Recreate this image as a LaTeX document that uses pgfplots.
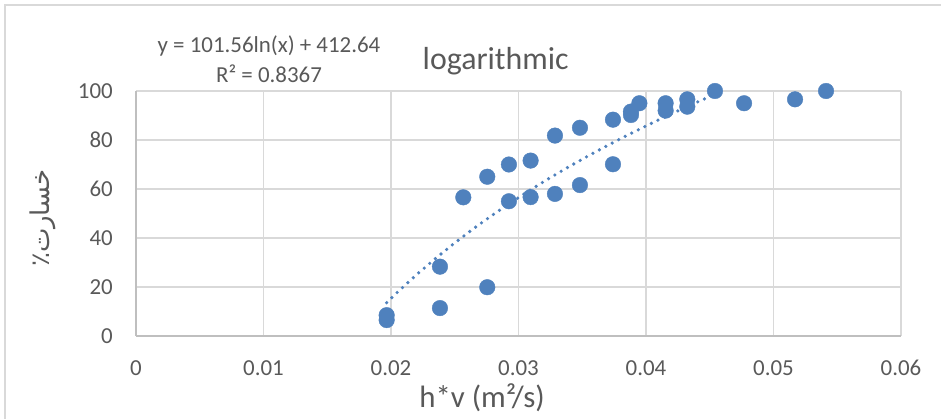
\documentclass[border=0pt]{standalone}
\usepackage{pgfplots}
\pgfplotsset{compat=1.18}
\usepackage{fontspec}
\setmainfont{Carlito}
\newfontfamily\arabicfont[Script=Arabic]{DejaVu Sans}
\TeXXeTstate=1
\definecolor{mk}{HTML}{4F81BD}
\definecolor{gridc}{HTML}{D9D9D9}
\definecolor{axl}{HTML}{BFBFBF}
\definecolor{txt}{HTML}{595959}
\begin{document}
\begin{tikzpicture}
\useasboundingbox (0,0) rectangle (941bp,419bp);
\draw[gridc, line width=1.5bp] (5bp,0) -- (5bp,414bp) -- (941bp,414bp);
\begin{axis}[at={(136bp,83bp)}, anchor=south west, scale only axis,
  width=765bp, height=245bp,
  xmin=0, xmax=0.06, ymin=0, ymax=100,
  scaled x ticks=false, scaled y ticks=false,
  xtick={0,0.01,0.02,0.03,0.04,0.05,0.06},
  xticklabels={0,0.01,0.02,0.03,0.04,0.05,0.06},
  ytick={0,20,40,60,80,100},
  grid=major, major grid style={gridc, line width=1.3bp},
  major tick length=0pt,
  axis x line*=bottom, axis y line*=left,
  axis line style={axl, line width=1.3bp, -},
  tick label style={font=\fontsize{23}{23}\selectfont, text=txt, inner sep=0pt},
  xticklabel style={anchor=north, yshift=-24bp},
  yticklabel style={anchor=east, xshift=-23bp},
  /pgf/number format/assume math mode=true,
  clip=false,
]
\addplot[mk, line width=3.6bp, line cap=round, dash pattern=on 0pt off 7.3bp] table {
x y
0.01966 13.59
0.0205 17.84
0.022 25.01
0.0235 31.71
0.025 38.00
0.0265 43.92
0.028 49.51
0.0295 54.81
0.031 59.85
0.0325 64.65
0.034 69.23
0.0355 73.61
0.037 77.81
0.0385 81.85
0.040 85.73
0.0415 89.47
0.043 93.08
0.0445 96.56
0.046 99.93
};
\addplot[only marks, mark=*, mark size=7.8bp, mark options={fill=mk, draw=mk}] table {
x y
0.01966 8.5
0.01966 6.5
0.02384 28.3
0.02384 11.4
0.02755 19.9
0.02567 56.6
0.02755 65.0
0.02925 70.0
0.02925 55.0
0.03095 71.6
0.03095 56.7
0.03286 81.8
0.03286 58.0
0.03482 85.0
0.03482 61.6
0.03741 88.3
0.03741 70.1
0.03882 91.6
0.03882 90.2
0.03948 95.0
0.04154 95.0
0.04154 92.0
0.04324 96.6
0.04324 93.6
0.04541 100.0
0.04769 95.0
0.05169 96.6
0.05412 100.0
};
\end{axis}
\node[anchor=base, text=txt, font=\fontsize{32}{32}\selectfont, inner sep=0pt] at (495.7bp,349bp) {logarithmic};
\node[anchor=base, text=txt, font=\fontsize{23}{23}\selectfont, inner sep=0pt] at (269bp,366bp) {y = 101.56ln(x) + 412.64};
\node[anchor=base, text=txt, font=\fontsize{23}{23}\selectfont, inner sep=0pt] at (269bp,336.3bp) {R² = 0.8367};
\node[anchor=base, text=txt, font=\fontsize{31}{31}\selectfont, inner sep=0pt] at (482bp,12bp) {h*v (m²/s)};
\node[rotate=90, text=txt, inner sep=0pt] at (43bp,201bp) {\arabicfont\fontsize{26}{26}\selectfont\beginR خسارت٪\endR};
\end{tikzpicture}
\end{document}
